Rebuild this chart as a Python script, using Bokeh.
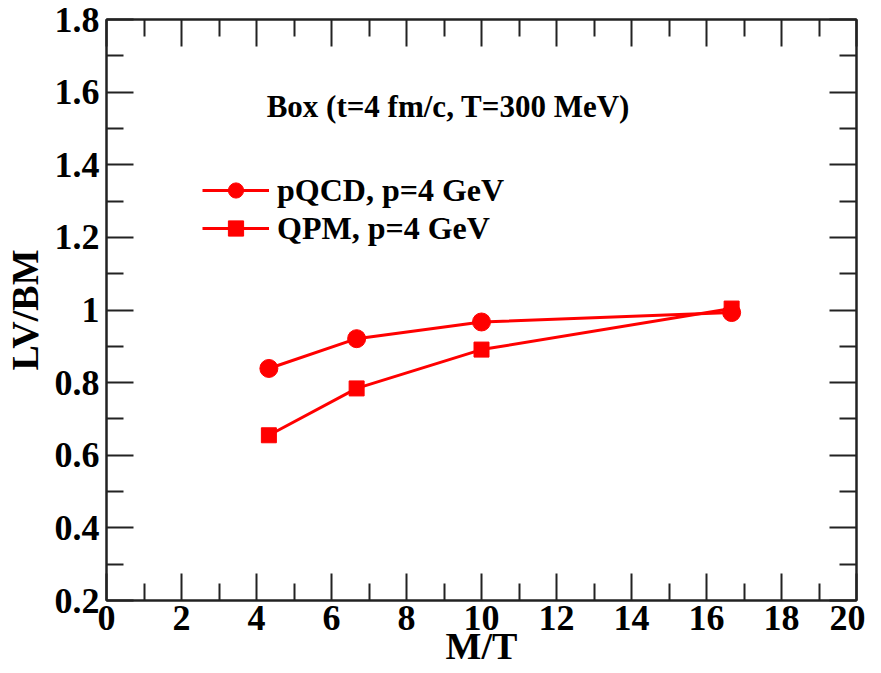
from bokeh.plotting import figure
from bokeh.models import (LinearAxis, FixedTicker, CustomJSTickFormatter, Range1d,
                          Legend, LegendItem, Label)
from bokeh.embed import file_html
from bokeh.resources import INLINE

# ---- data ----
mt = [4.33, 6.67, 10.0, 16.67]
pqcd = [0.839, 0.921, 0.967, 0.993]
qpm = [0.655, 0.784, 0.891, 1.004]

x_major = [0, 2, 4, 6, 8, 10, 12, 14, 16, 18, 20]
x_minor = [1, 3, 5, 7, 9, 11, 13, 15, 17, 19]
y_major = [0.2, 0.4, 0.6, 0.8, 1.0, 1.2, 1.4, 1.6, 1.8]
y_minor = [0.3, 0.5, 0.7, 0.9, 1.1, 1.3, 1.5, 1.7]

series_names = ["pQCD, p=4 GeV", "QPM, p=4 GeV"]
title_text = "Box (t=4 fm/c, T=300 MeV)"
x_label = "M/T"
y_label = "LV/BM"

FONT = "Liberation Serif"
RED = "#ff0000"
AX = "#222222"

p = figure(width=865, height=669, output_backend="svg", toolbar_location=None,
           x_range=Range1d(0, 20), y_range=Range1d(0.2, 1.8),
           min_border_left=99, min_border_right=9, min_border_top=19, min_border_bottom=69,
           x_axis_label=x_label, y_axis_label=y_label)
p.xgrid.visible = False
p.ygrid.visible = False
p.outline_line_color = AX
p.outline_line_width = 2
p.background_fill_color = "white"
p.border_fill_color = "white"

fmt = CustomJSTickFormatter(code="var s = tick.toFixed(1); if (s.endsWith('.0')) { s = s.slice(0, -2); } return s;")
xfmt = CustomJSTickFormatter(code="return Math.round(tick).toString();")
blank = CustomJSTickFormatter(code="return '';")

def style(ax, ticks, minor, formatter, show):
    ax.ticker = FixedTicker(ticks=ticks, minor_ticks=minor)
    ax.formatter = formatter
    ax.major_tick_in = 27
    ax.major_tick_out = 0
    ax.minor_tick_in = 17
    ax.minor_tick_out = 0
    ax.axis_line_color = AX
    ax.axis_line_width = 2
    ax.major_tick_line_color = AX
    ax.major_tick_line_width = 2
    ax.minor_tick_line_color = AX
    ax.minor_tick_line_width = 2
    if show:
        ax.major_label_text_font = FONT
        ax.major_label_text_font_style = "bold"
        ax.major_label_text_font_size = "36px"
        ax.major_label_text_color = "black"
        ax.axis_label_text_font = FONT
        ax.axis_label_text_font_style = "bold"
        ax.axis_label_text_font_size = "38px"
        ax.axis_label_text_color = "black"
    else:
        ax.major_label_text_font_size = "0px"
        ax.major_label_standoff = 0
        ax.axis_label_standoff = 0

style(p.xaxis[0], x_major, x_minor, xfmt, True)
style(p.yaxis[0], y_major, y_minor, fmt, True)
p.xaxis[0].major_label_standoff = 5
p.xaxis[0].axis_label_standoff = -8
p.yaxis[0].major_label_standoff = 7
p.yaxis[0].axis_label_standoff = 6

top = LinearAxis()
style(top, x_major, x_minor, blank, False)
p.add_layout(top, "above")
right = LinearAxis()
style(right, y_major, y_minor, blank, False)
p.add_layout(right, "right")

l1 = p.line(mt, pqcd, line_color=RED, line_width=3)
s1 = p.scatter(mt, pqcd, marker="circle", size=18, fill_color=RED, line_color=RED)
l2 = p.line(mt, qpm, line_color=RED, line_width=3)
s2 = p.scatter(mt, qpm, marker="square", size=15, fill_color=RED, line_color=RED)

legend = Legend(items=[LegendItem(label=series_names[0], renderers=[l1, s1]),
                       LegendItem(label=series_names[1], renderers=[l2, s2])],
                location=(96, 353), orientation="vertical",
                glyph_width=67, glyph_height=38, label_height=38, spacing=0,
                padding=0, margin=0, label_standoff=8,
                label_text_font=FONT, label_text_font_style="bold",
                label_text_font_size="32px", label_text_color="black",
                border_line_color=None, background_fill_alpha=0)
p.add_layout(legend, "center")

p.add_layout(Label(x=4.27, y=1.56, text=title_text, text_font=FONT,
                   text_font_style="bold", text_font_size="31px",
                   text_color="black", text_baseline="alphabetic"))

open("out.html", "w").write(file_html(p, INLINE))
